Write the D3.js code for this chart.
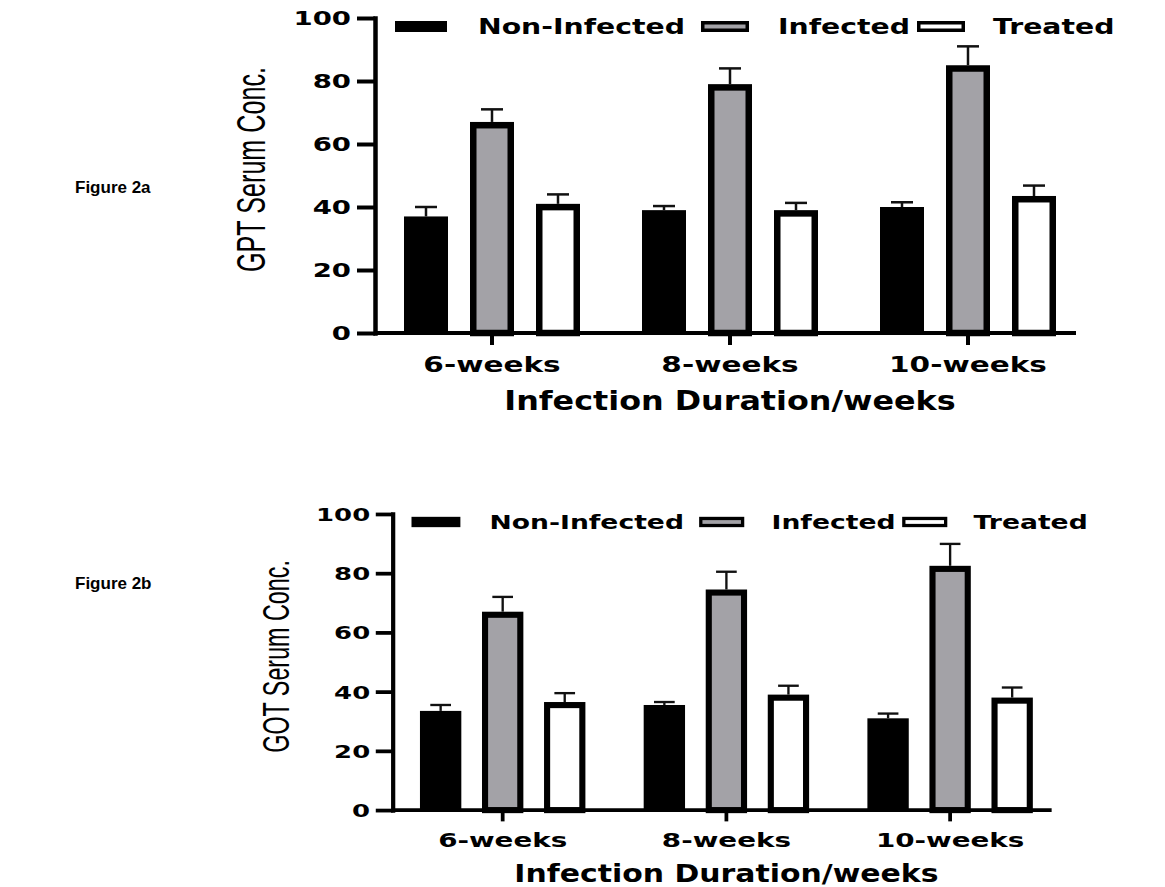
<!DOCTYPE html>
<html lang="en">
<head>
<meta charset="UTF-8">
<script src="https://cdn.jsdelivr.net/npm/d3@7"></script>
<title>Figure 2</title>
<style>
    body { margin: 0; background: white; }
    svg { display: block; }
    .bold { font-family: "DejaVu Sans", sans-serif; font-weight: bold; fill: black; }
    .fig-label { font-family: "Liberation Sans", Arial, sans-serif; font-weight: bold; font-size: 17px; }
    .y-title { font-family: "Liberation Sans", Arial, sans-serif; font-size: 40px; }
</style>
</head>
<body>
<svg id="chart" width="1165" height="887"></svg>
<script>
    const categories = ["6-weeks", "8-weeks", "10-weeks"];
    const groups = ["Non-Infected", "Infected", "Treated"];
    const yTicks = [0, 20, 40, 60, 80, 100];

    // Figure 2a - GPT serum
    const gptNonInfected = [37, 39, 40];
    const gptInfected = [67, 79, 85];
    const gptTreated = [41, 39, 43.5];
    const gptNonInfectedErr = [3, 1.3, 1.5];
    const gptInfectedErr = [4, 5, 6];
    const gptTreatedErr = [3, 2.3, 3.3];

    // Figure 2b - GOT serum
    const gotNonInfected = [33.5, 35.5, 31];
    const gotInfected = [67, 74.5, 82.5];
    const gotTreated = [36.5, 39, 38];
    const gotNonInfectedErr = [2, 1, 1.6];
    const gotInfectedErr = [5, 6, 7.4];
    const gotTreatedErr = [3, 3, 3.4];

    const fills = { "Non-Infected": "#000", "Infected": "#a3a2a7", "Treated": "#fff" };

    // chart geometry in local units (bottom chart is the same drawing scaled down)
    const plotW = 701, plotH = 315;
    const barW = 44, border = 6.5;
    const legendSwatchX = [20, 326, 542];
    const legendTextX = [103, 403, 618];

    const svg = d3.select("#chart");

    // widen / narrow the glyphs of a text selection by a factor
    const stretch = (sel, factor) => sel.each(function () {
        const len = this.getComputedTextLength();
        d3.select(this).attr("textLength", len * factor).attr("lengthAdjust", "spacingAndGlyphs");
    });

    function drawChart(opts) {
        const g = svg.append("g")
            .attr("transform", `translate(${opts.x},${opts.y}) scale(${opts.k})`);

        const x0 = d3.scaleBand().domain(categories).range([-2, 712]);
        const x1 = d3.scalePoint().domain(groups).range([-66, 66]);
        const y = d3.scaleLinear().domain([0, 100]).range([plotH, 0]);

        const rows = categories.flatMap((c, i) => groups.map((s, j) => ({
            cat: c, grp: s, value: opts.means[j][i], err: opts.errs[j][i]
        })));
        const cx = d => x0(d.cat) + x0.bandwidth() / 2 + x1(d.grp);

        // bars: black ones are plain, the others get a thick inner border
        g.selectAll(".bar")
            .data(rows)
            .enter()
            .append("rect")
            .attr("class", "bar")
            .attr("x", d => d.grp === groups[0] ? cx(d) - barW / 2 : cx(d) - barW / 2 + border / 2)
            .attr("y", d => d.grp === groups[0] ? y(d.value) : y(d.value) + border / 2)
            .attr("width", d => d.grp === groups[0] ? barW : barW - border)
            .attr("height", d => d.grp === groups[0] ? plotH - y(d.value) : plotH - y(d.value) - border / 2)
            .attr("fill", d => fills[d.grp])
            .attr("stroke", d => d.grp === groups[0] ? "none" : "#000")
            .attr("stroke-width", border);

        // error bars (upper only)
        const eb = g.selectAll(".err")
            .data(rows)
            .enter()
            .append("g")
            .attr("class", "err")
            .attr("stroke", "#111")
            .attr("stroke-width", 2.5);
        eb.append("line")
            .attr("x1", cx).attr("x2", cx)
            .attr("y1", d => y(d.value)).attr("y2", d => y(d.value + d.err));
        eb.append("line")
            .attr("x1", d => cx(d) - 11).attr("x2", d => cx(d) + 11)
            .attr("y1", d => y(d.value + d.err)).attr("y2", d => y(d.value + d.err));

        // y axis
        const yAxis = g.append("g")
            .call(d3.axisLeft(y).tickValues(yTicks).tickSize(18).tickSizeOuter(0).tickPadding(6))
            .attr("font-size", null).attr("font-family", null);
        yAxis.select(".domain").attr("stroke-width", 4.5).attr("stroke-linecap", "square");
        yAxis.selectAll(".tick line").attr("stroke-width", 4);
        yAxis.selectAll(".tick text")
            .attr("class", "bold")
            .attr("font-size", 19)
            .attr("dy", "0.36em")
            .call(stretch, 1.45);

        // x axis
        const xAxis = g.append("g")
            .attr("transform", `translate(0,${plotH})`)
            .call(d3.axisBottom(x0).tickSize(12).tickSizeOuter(0))
            .attr("font-size", null).attr("font-family", null);
        xAxis.select(".domain").remove();
        xAxis.selectAll(".tick line").attr("stroke-width", 4);
        xAxis.selectAll(".tick text")
            .attr("class", "bold")
            .attr("font-size", 21.4)
            .attr("y", 39)
            .attr("dy", 0)
            .call(stretch, 1.38);
        g.append("line")
            .attr("x1", 0).attr("x2", plotW)
            .attr("y1", plotH).attr("y2", plotH)
            .attr("stroke", "#000")
            .attr("stroke-width", 4);

        g.append("text")
            .attr("class", "bold")
            .attr("x", x0.range()[0] + (x0.range()[1] - x0.range()[0]) / 2)
            .attr("y", plotH + 77)
            .attr("text-anchor", "middle")
            .attr("font-size", 26.5)
            .text("Infection Duration/weeks")
            .call(stretch, 1.2);

        // tall, condensed y title: squeeze it with a transform so its box stays honest
        const yTitle = g.append("text")
            .attr("class", "y-title")
            .attr("text-anchor", "middle")
            .text(opts.yTitle);
        const squeeze = 205 / yTitle.node().getComputedTextLength();
        yTitle.attr("transform", `translate(-110,${plotH / 2 - 6}) rotate(-90) scale(${squeeze},1)`);

        // legend across the top
        const lg = g.selectAll(".legend")
            .data(groups)
            .enter()
            .append("g")
            .attr("class", "legend");
        lg.append("rect")
            .attr("x", (d, i) => i === 0 ? legendSwatchX[i] : legendSwatchX[i] + 1.75)
            .attr("y", (d, i) => i === 0 ? 3 : 4.75)
            .attr("width", (d, i) => i === 0 ? 52 : 44.5)
            .attr("height", (d, i) => i === 0 ? 11 : 7.5)
            .attr("fill", d => fills[d])
            .attr("stroke", (d, i) => i === 0 ? "none" : "#000")
            .attr("stroke-width", 3.5);
        lg.append("text")
            .attr("class", "bold")
            .attr("x", (d, i) => legendTextX[i])
            .attr("y", 16)
            .attr("font-size", 20.5)
            .text(d => d)
            .call(stretch, 1.38);
    }

    drawChart({
        x: 375, y: 18, k: 1,
        means: [gptNonInfected, gptInfected, gptTreated],
        errs: [gptNonInfectedErr, gptInfectedErr, gptTreatedErr],
        yTitle: "GPT Serum Conc."
    });

    drawChart({
        x: 392.7, y: 514, k: 0.94,
        means: [gotNonInfected, gotInfected, gotTreated],
        errs: [gotNonInfectedErr, gotInfectedErr, gotTreatedErr],
        yTitle: "GOT Serum Conc."
    });

    svg.append("text").attr("class", "fig-label").attr("x", 75).attr("y", 193).text("Figure 2a");
    svg.append("text").attr("class", "fig-label").attr("x", 75).attr("y", 589).text("Figure 2b");
</script>
</body>
</html>
